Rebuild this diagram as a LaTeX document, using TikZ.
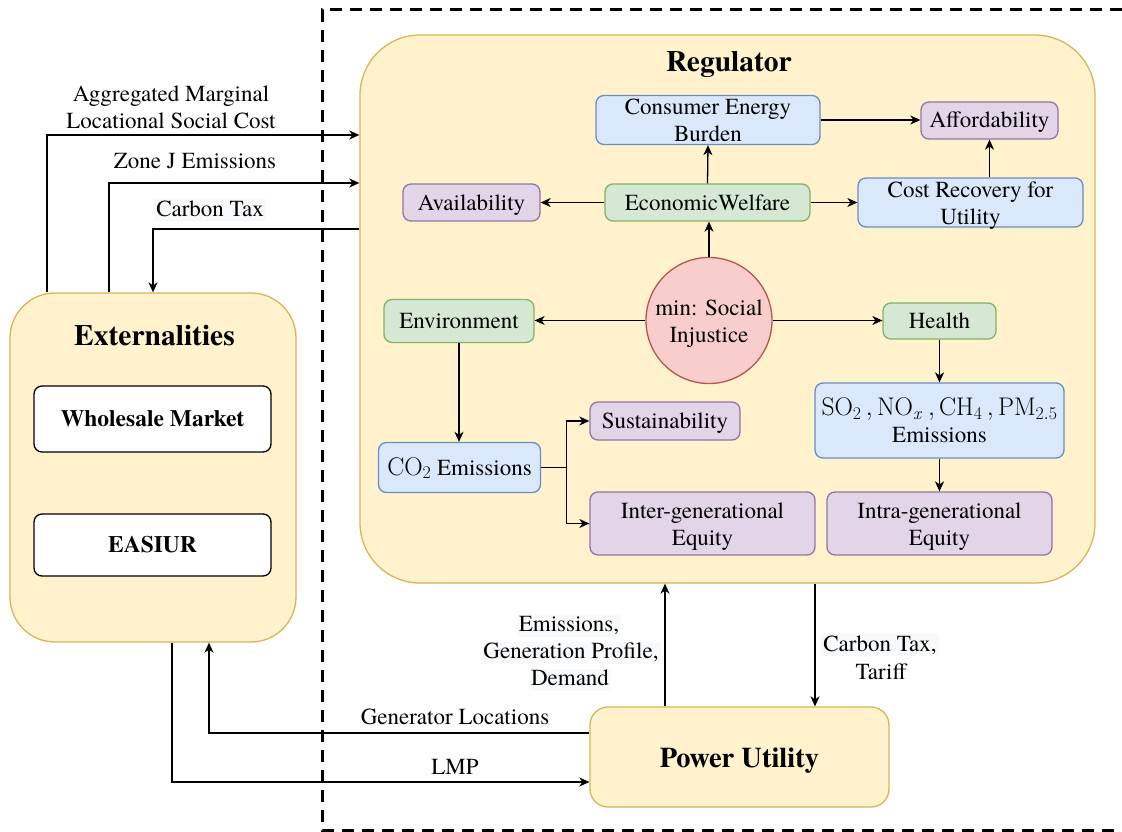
\RequirePackage{fix-cm}
\documentclass[tikz,border=0pt]{standalone}
\usepackage[no-math]{fontspec}
\setmainfont{texgyretermes}[Extension=.otf, UprightFont=*-regular, BoldFont=*-bold, ItalicFont=*-italic, BoldItalicFont=*-bolditalic]
\usetikzlibrary{arrows.meta,calc}
\definecolor{yfill}{HTML}{FFF2CC}\definecolor{ydraw}{HTML}{D6B656}
\definecolor{gfill}{HTML}{D5E8D4}\definecolor{gdraw}{HTML}{82B366}
\definecolor{bfill}{HTML}{DAE8FC}\definecolor{bdraw}{HTML}{6C8EBF}
\definecolor{pfill}{HTML}{E1D5E7}\definecolor{pdraw}{HTML}{9673A6}
\definecolor{rfill}{HTML}{F8CECC}\definecolor{rdraw}{HTML}{B85450}
\definecolor{labelbg}{HTML}{F8F9FA}
\newcommand{\mystrut}{\rule[-6pt]{0pt}{27pt}}
\newcommand{\topstrut}{\rule[-6pt]{0pt}{29pt}}
\newcommand{\bigmath}[1]{{\fontsize{25.5}{27}\selectfont$#1$}}
\tikzset{
  base/.style={font=\fontsize{23}{27}\selectfont, align=center, inner sep=0pt, line width=1.3pt, rounded corners=8pt,
    execute at begin node={\mystrut}, execute at end node={\mystrut}},
  gbox/.style={base, draw=gdraw, fill=gfill},
  bbox/.style={base, draw=bdraw, fill=bfill},
  pbox/.style={base, draw=pdraw, fill=pfill},
  outer/.style={base, draw=ydraw, fill=yfill},
  whitebox/.style={base, draw=black, fill=white, font=\fontsize{23.5}{27}\selectfont\bfseries},
  titletxt/.style={font=\fontsize{29.5}{33}\selectfont\bfseries, inner sep=0pt},
  lbl/.style={font=\fontsize{23}{27}\selectfont, align=center, inner sep=1pt},
  lblbg/.style={lbl, fill=labelbg, inner xsep=2pt, inner ysep=0pt, execute at begin node={\rule[-5pt]{0pt}{22pt}}},
  arr/.style={-{Stealth[length=10pt,width=9pt,inset=3pt]}, line width=1.3pt, black},
  dashbox/.style={line width=3pt, dash pattern=on 12pt off 8pt, black}
}
\begin{document}
\begin{tikzpicture}[x=1pt,y=-1pt]
\useasboundingbox (0,0) rectangle (1122,832);
\draw[dashbox] (1122,10) -- (322,10) -- (322,830) -- (1122,830);

% Regulator
\node[outer, minimum width=735pt, minimum height=548pt, rounded corners=60pt] (reg) at (727.5,309) {};
\node[titletxt] (regt) at (729,64.5) {Regulator};

% Externalities
\node[outer, minimum width=286pt, minimum height=349pt, rounded corners=45pt] (ext) at (153,467.5) {};
\node[titletxt] (extt) at (154.5,336) {Externalities};
\node[whitebox, minimum width=237pt, minimum height=66pt] (wm) at (152.5,419) {Wholesale Market};
\node[whitebox, minimum width=237pt, minimum height=62pt] (easiur) at (152.5,545) {EASIUR};

% Power Utility
\node[outer, minimum width=299pt, minimum height=100pt, rounded corners=18pt, font=\fontsize{28.5}{32}\selectfont\bfseries,
  execute at begin node={\rule[-6pt]{0pt}{32pt}}, execute at end node={}] (pu) at (739.5,757) {Power Utility};

% inner nodes
\node[bbox, inner ysep=-3.5pt, minimum width=224pt, minimum height=49pt] (ceb) at (708,120) {\topstrut Consumer Energy\\Burden};
\node[pbox, minimum width=137pt, minimum height=37pt] (aff) at (989.5,120.5) {Affordability};
\node[pbox, minimum width=137pt, minimum height=37pt] (avail) at (471.5,202.5) {Availability};
\node[gbox, minimum width=205pt, minimum height=37pt] (ew) at (707.5,202.5) {EconomicWelfare};
\node[bbox, inner ysep=-3.5pt, minimum width=225pt, minimum height=49pt] (cost) at (970.5,202.5) {\topstrut Cost Recovery for\\Utility};
\node[base, circle, draw=rdraw, fill=rfill, minimum size=126pt] (circ) at (709,320.5) {\topstrut min: Social\\Injustice};
\node[gbox, minimum width=150pt, minimum height=43pt] (env) at (459,321) {Environment};
\node[gbox, minimum width=113pt, minimum height=36pt] (health) at (939.5,321) {Health};
\node[bbox, minimum width=162pt, minimum height=50pt] (co2) at (459.5,467.5) {\bigmath{\mathrm{CO_2}} Emissions};
\node[pbox, minimum width=150pt, minimum height=38pt] (sus) at (665,421) {Sustainability};
\node[pbox, minimum width=225pt, minimum height=63pt] (inter) at (702.5,523.5) {\topstrut Inter-generational\\Equity};
\node[bbox, minimum width=249pt, minimum height=75pt] (so2) at (939.5,420.5) {\topstrut\bigmath{\mathrm{SO_2\,, NO_{\mathit{x}}\,, CH_4\,, PM_{2.5}}}\\Emissions};
\node[pbox, minimum width=225pt, minimum height=63pt] (intra) at (939.5,523.5) {\topstrut Intra-generational\\Equity};

% inner connectors
\draw[arr] (ew.north) -- (ceb.south);
\draw[arr] (circ.north) -- (circ.north |- ew.south);
\draw[arr] (ew.west) -- (avail.east);
\draw[arr] (ew.east) -- (cost.west);
\draw[arr] (ceb.east) -- (ceb.east -| aff.west);
\draw[arr] (aff.south |- cost.north) -- (aff.south);
\draw[arr] (circ.west) -- (circ.west -| env.east);
\draw[arr] (circ.east) -- (circ.east -| health.west);
\draw[arr] (env.south) -- (env.south |- co2.north);
\draw[arr] (co2.east) -- ++(25,0) |- (sus.west);
\draw[arr] (co2.east) -- ++(25,0) |- (inter.west);
\draw[arr] (health.south) -- (so2.north);
\draw[arr] (so2.south) -- (intra.north);

% outer connectors
\draw[arr] ([xshift=-106pt]ext.north) |- ([yshift=174pt]reg.west);
\draw[arr] ([xshift=-44pt]ext.north) |- ([yshift=126pt]reg.west);
\draw[arr] ([yshift=80pt]reg.west) -| (ext.north);
\draw[arr] ([yshift=24pt]pu.west) -| ([xshift=56pt]ext.south);
\draw[arr] ([xshift=19pt]ext.south) |- ([yshift=-25pt]pu.west);
\draw[arr] ($(pu.north)+(-74.5,0)$) -- ($(reg.south)+(-62.5,0)$);
\draw[arr] ($(reg.south)+(87.5,0)$) -- ($(pu.north)+(75.5,0)$);

% labels
\node[lbl] (l1) at (171,107) {Aggregated Marginal\\Locational Social Cost};
\node[lbl] (l2) at (195,161) {Zone J Emissions};
\node[lblbg] (l3) at (210,210) {Carbon Tax};
\node[lbl] (l4) at (455,717) {Generator Locations};
\node[lbl] (l5) at (455,767) {LMP};
\node[lblbg] (l6a) at (569,625.5) {Emissions,};
\node[lblbg] (l6b) at (571,652.5) {Generation Profile,};
\node[lblbg] (l6c) at (570,679.5) {Demand};
\node[lblbg] (l7a) at (880,645) {Carbon Tax,};
\node[lbl] (l7b) at (881,672) {Tariff};
\end{tikzpicture}
\end{document}
